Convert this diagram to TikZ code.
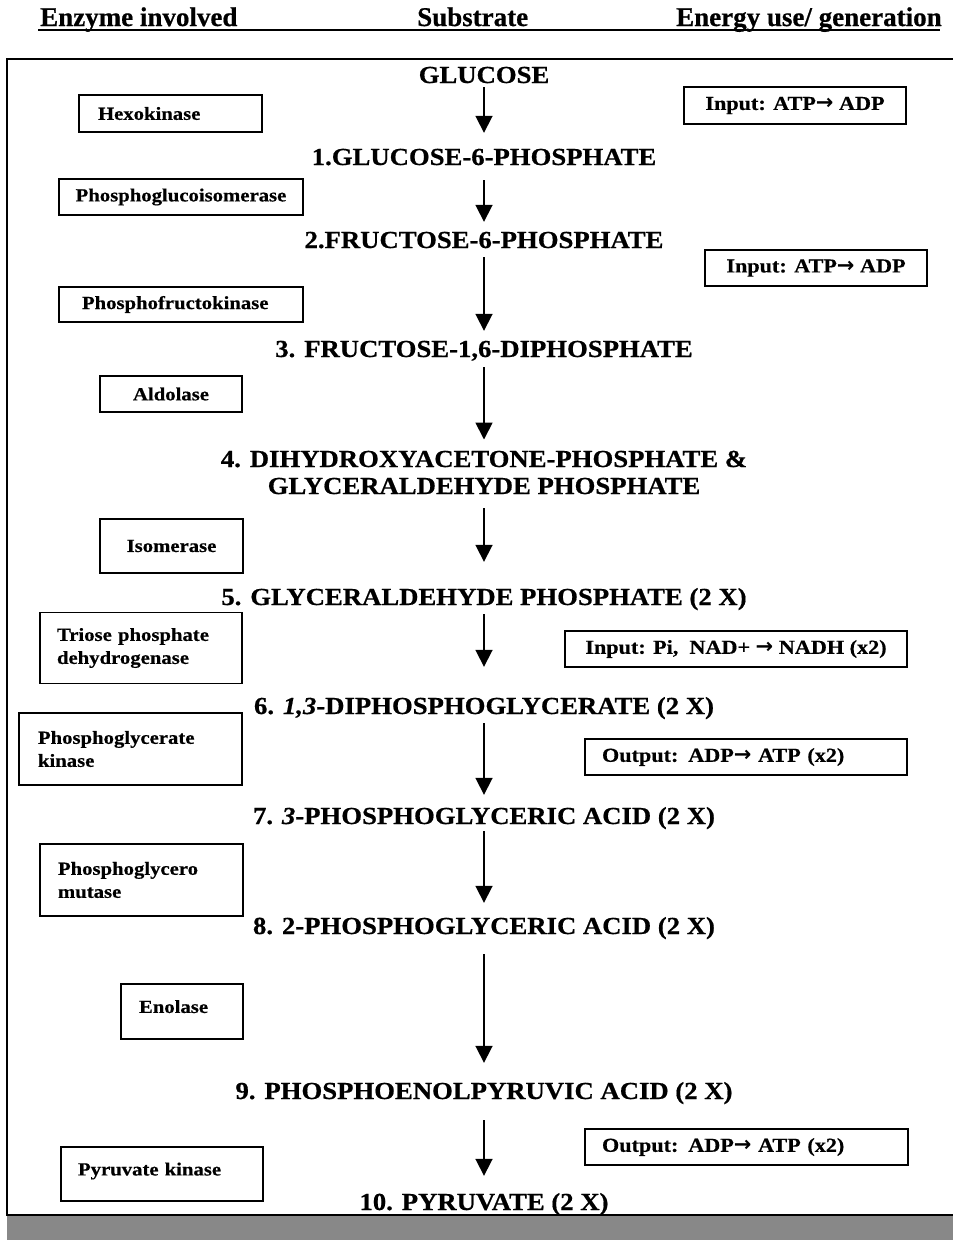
\documentclass[tikz,border=0pt]{standalone}
\usepackage{fontspec}
\setmainfont{Liberation Serif}
\newfontfamily\subfamily[FakeStretch=1.09,FakeBold=0.6]{Liberation Serif}
\newfontfamily\boxfamily[FakeStretch=1.12,FakeBold=0.5]{Liberation Serif}
\newfontfamily\headfamily[FakeBold=0.6]{Liberation Serif}
\newfontfamily\arrowfamily{DejaVu Sans}
\usetikzlibrary{arrows.meta}
\newcommand{\subfont}{\subfamily\bfseries\fontsize{24.5}{27}\selectfont}
\newcommand{\boxfont}{\boxfamily\bfseries\fontsize{18.5}{23}\selectfont}
\newcommand{\energyfont}{\boxfamily\bfseries\fontsize{19.8}{23}\selectfont}
\newcommand{\headfont}{\headfamily\bfseries\fontsize{27}{30}\selectfont}
\newcommand{\yields}{{\arrowfamily\bfseries\fontsize{21}{23}\selectfont →}}
\definecolor{bargray}{HTML}{888888}

\begin{document}
\begin{tikzpicture}[x=1pt,y=-1pt,
  substrate/.style={font=\subfont, inner sep=0pt, anchor=base},
  single/.style={text height=16pt, text depth=0pt},
  enzyme/.style={draw, line width=1.5pt, font=\boxfont, inner sep=0pt},
  energy/.style={draw, line width=1.5pt, font=\energyfont, inner sep=0pt},
  flow/.style={line width=1.8pt, -{Triangle[width=17pt,length=17pt]}}]
\useasboundingbox (0,0) rectangle (953,1240);
% header
\node[font=\headfont, inner sep=0pt, anchor=base west] (hEnz) at (40,26) {Enzyme involved};
\node[font=\headfont, inner sep=0pt, anchor=base west] (hSub) at (417,26) {Substrate};
\node[font=\headfont, inner sep=0pt, anchor=base west] (hEn) at (676,26) {Energy use/ generation};
\draw[line width=2pt] (38,30) -- (940,30);
% frame
\fill[bargray] (7,1215) rectangle (953,1240);
\draw[line width=1.5pt] (953,59) -- (7,59) -- (7,1215) -- (953,1215);
% substrates
\node[substrate, single] (s0) at (484,83) {GLUCOSE};
\node[substrate, single] (s1) at (484,165) {1.GLUCOSE-6-PHOSPHATE};
\node[substrate, single] (s2) at (484,248) {2.FRUCTOSE-6-PHOSPHATE};
\node[substrate, single] (s3) at (484,357) {3. FRUCTOSE-1,6-DIPHOSPHATE};
\node[substrate, align=center] (s4) at (484,494) {4. DIHYDROXYACETONE-PHOSPHATE \&\\GLYCERALDEHYDE PHOSPHATE};
\node[substrate, single] (s5) at (484,605) {5. GLYCERALDEHYDE PHOSPHATE (2 X)};
\node[substrate, single] (s6) at (484,714) {6. {\itshape 1,3}-DIPHOSPHOGLYCERATE (2 X)};
\node[substrate, single] (s7) at (484,824) {7. {\itshape 3}-PHOSPHOGLYCERIC ACID (2 X)};
\node[substrate, single] (s8) at (484,934) {8. 2-PHOSPHOGLYCERIC ACID (2 X)};
\node[substrate, single] (s9) at (484,1099) {9. PHOSPHOENOLPYRUVIC ACID (2 X)};
\node[substrate, single] (s10) at (484,1210) {10. PYRUVATE (2 X)};
% reactions
\draw[flow, shorten <=4pt, shorten >=16pt] (s0.south) -- (s1.north);
\draw[flow, shorten <=15pt, shorten >=10pt] (s1.south) -- (s2.north);
\draw[flow, shorten <=9pt, shorten >=10pt] (s2.south) -- (s3.north);
\draw[flow, shorten <=10pt, shorten >=11pt] (s3.south) -- (s4.north);
\draw[flow, shorten <=14pt, shorten >=27pt] (s4.south) -- (s5.north);
\draw[flow, shorten <=9pt, shorten >=31pt] (s5.south) -- (s6.north);
\draw[flow, shorten <=9pt, shorten >=13pt] (s6.south) -- (s7.north);
\draw[flow, shorten <=7pt, shorten >=15pt] (s7.south) -- (s8.north);
\draw[flow, shorten <=20pt, shorten >=20pt] (s8.south) -- (s9.north);
\draw[flow, shorten <=21pt, shorten >=18pt] (s9.south) -- (s10.north);
% enzymes
\node[enzyme, minimum width=183pt, minimum height=37pt, text width=145pt, align=left] (hexo) at (170.5,113.5) {Hexokinase};
\node[enzyme, minimum width=244pt, minimum height=36pt] (pgi) at (181,197) {Phosphoglucoisomerase};
\node[enzyme, minimum width=244pt, minimum height=35pt, text width=198pt, align=left] (pfk) at (181,304.5) {Phosphofructokinase};
\node[enzyme, minimum width=142pt, minimum height=36pt] (ald) at (171,394) {Aldolase};
\node[enzyme, minimum width=143pt, minimum height=54pt] (iso) at (171.5,546) {Isomerase};
\node[enzyme, minimum width=202pt, minimum height=71pt, text width=168pt, align=left] (tpd) at (141,648) {Triose phosphate\\dehydrogenase};
\node[enzyme, minimum width=223pt, minimum height=72pt, text width=185pt, align=left] (pgk) at (130.5,749) {Phosphoglycerate\\kinase};
\node[enzyme, minimum width=203pt, minimum height=72pt, text width=167pt, align=left] (pgm) at (141.5,880) {Phosphoglycero\\mutase};
\node[enzyme, minimum width=122pt, minimum height=55pt, text depth=10pt, text width=86pt, align=left] (eno) at (182,1011.5) {Enolase};
\node[enzyme, minimum width=202pt, minimum height=54pt, text depth=10pt, text width=168pt, align=left] (pk) at (162,1174) {Pyruvate kinase};
% energy
\node[energy, minimum width=222pt, minimum height=37pt] (in1) at (795,105.5) {Input: ATP\yields{} ADP};
\node[energy, minimum width=222pt, minimum height=36pt] (in2) at (816,268) {Input: ATP\yields{} ADP};
\node[energy, minimum width=342pt, minimum height=36pt] (in3) at (736,649) {Input: Pi,\ \ NAD+ \yields{} NADH (x2)};
\node[energy, minimum width=322pt, minimum height=36pt, text width=288pt, align=left] (out1) at (746,757) {Output: ADP\yields{} ATP (x2)};
\node[energy, minimum width=323pt, minimum height=36pt, text width=289pt, align=left] (out2) at (746.5,1147) {Output: ADP\yields{} ATP (x2)};
\end{tikzpicture}
\end{document}
